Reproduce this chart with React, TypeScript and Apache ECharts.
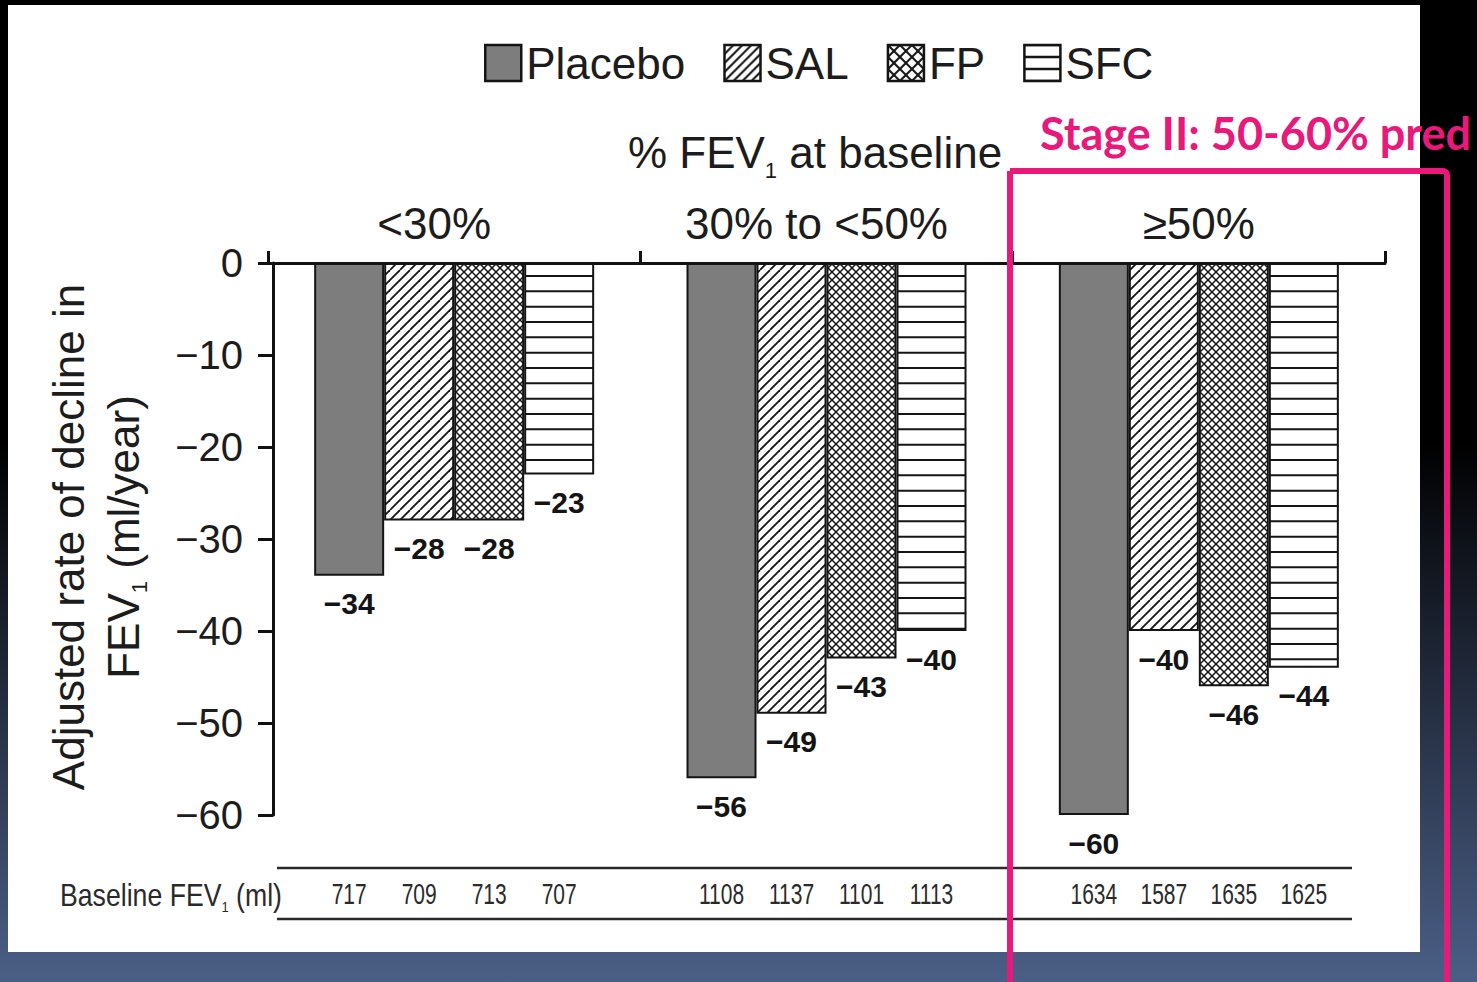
import { useEffect, useRef } from 'react';
import * as echarts from 'echarts';

// ---------- data ----------
const categories = ['<30%', '30% to <50%', '≥50%'];
const seriesNames = ['Placebo', 'SAL', 'FP', 'SFC'];
const placebo = [-34, -56, -60];
const sal = [-28, -49, -40];
const fp = [-28, -43, -46];
const sfc = [-23, -40, -44];
const baselinePlacebo = [717, 1108, 1634];
const baselineSal = [709, 1137, 1587];
const baselineFp = [713, 1101, 1635];
const baselineSfc = [707, 1113, 1625];
const yMin = -60;
const yMax = 0;
const yStep = 10;

const FONT = "'Liberation Sans', Arial, Helvetica, sans-serif";
const INK = '#1c1c1c';
const TABLE_INK = '#2a2a2a';
const PINK = '#e9197c';

const fmt = (v: number) => (v < 0 ? '\u2212' + Math.abs(v) : String(v));

type Kind = 'diag' | 'cross' | 'horiz';
function makePattern(kind: Kind, size: number, period: number, lw: number) {
  const c = document.createElement('canvas');
  c.width = size;
  c.height = size;
  const g = c.getContext('2d')!;
  g.fillStyle = '#ffffff';
  g.fillRect(0, 0, size, size);
  g.strokeStyle = '#151515';
  g.lineWidth = lw;
  if (kind === 'diag' || kind === 'cross') {
    for (let k = -size; k <= 2 * size + 0.01; k += period) {
      g.beginPath();
      g.moveTo(k, 0);
      g.lineTo(k - size, size);
      g.stroke();
      if (kind === 'cross') {
        g.beginPath();
        g.moveTo(k, 0);
        g.lineTo(k + size, size);
        g.stroke();
      }
    }
  } else {
    for (let y = 0; y < size + 0.01; y += period) {
      g.beginPath();
      g.moveTo(0, y);
      g.lineTo(size, y);
      g.stroke();
    }
  }
  return { image: c, repeat: 'repeat' } as any;
}

export default function App() {
  const ref = useRef<HTMLDivElement>(null);

  useEffect(() => {
    if (!ref.current) return;
    const chart = echarts.init(ref.current, undefined, { renderer: 'svg' });

    const values = [placebo, sal, fp, sfc];
    const baselines = [baselinePlacebo, baselineSal, baselineFp, baselineSfc];
    const fills: any[] = [
      '#7d7d7d',
      makePattern('diag', 30, 10, 1.8),
      makePattern('cross', 24, 8, 1.5),
      makePattern('horiz', 46, 46 / 3, 2),
    ];
    const legendFills: any[] = [
      '#7d7d7d',
      makePattern('diag', 36, 9, 2),
      makePattern('cross', 36, 12, 2),
      makePattern('horiz', 36, 12, 2.5),
    ];

    const mainSeries = seriesNames.map((name, i) => ({
      name,
      type: 'bar',
      xAxisIndex: 0,
      yAxisIndex: 0,
      data: values[i],
      barWidth: 70,
      barGap: '0%',
      itemStyle: { color: fills[i], borderColor: '#141414', borderWidth: 2 },
      label: {
        show: true,
        position: 'bottom',
        distance: 13,
        formatter: (p: any) => fmt(p.value),
        fontSize: 30,
        fontWeight: 'bold',
        color: '#141414',
        fontFamily: FONT,
      },
      z: 3,
    }));

    // invisible bars in the table row: their layout gives the column centres
    const tableSeries = seriesNames.map((name) => ({
      name: 'Baseline ' + name,
      type: 'bar',
      xAxisIndex: 1,
      yAxisIndex: 1,
      data: categories.map(() => 1),
      barWidth: 70,
      barGap: '0%',
      silent: true,
      legendHoverLink: false,
      itemStyle: { color: 'rgba(0,0,0,0)' },
    }));

    const catPad = [40, 20, 0];
    const rich: any = {};
    catPad.forEach((p, i) => {
      rich['c' + i] = { fontSize: 44, color: INK, fontFamily: FONT, padding: [0, p, 0, 0] };
    });

    const baseElements: any[] = [
      {
        type: 'rect',
        z: -100,
        silent: true,
        shape: { x: 8, y: 5, width: 1412, height: 947 },
        style: { fill: '#ffffff' },
      },
      {
        type: 'line',
        silent: true,
        shape: { x1: 277, y1: 868, x2: 1352, y2: 868 },
        style: { stroke: TABLE_INK, lineWidth: 2.5 },
      },
      {
        type: 'line',
        silent: true,
        shape: { x1: 277, y1: 919, x2: 1352, y2: 919 },
        style: { stroke: TABLE_INK, lineWidth: 2.5 },
      },
      {
        type: 'text',
        silent: true,
        x: 96,
        y: 537,
        rotation: Math.PI / 2,
        style: {
          text: '{a|Adjusted rate of decline in}\n{a|FEV}{s|1}{a| (ml/year)}',
          align: 'center',
          verticalAlign: 'middle',
          fill: INK,
          rich: {
            a: { fontSize: 44, fontFamily: FONT, fill: INK, lineHeight: 55 },
            s: { fontSize: 22, fontFamily: FONT, fill: INK, lineHeight: 55, padding: [32, 0, 0, 0] },
          },
        },
      },
      {
        type: 'text',
        silent: true,
        x: 815,
        y: 152,
        style: {
          text: '{a|% FEV}{s|1}{a| at baseline}',
          align: 'center',
          verticalAlign: 'middle',
          fill: INK,
          rich: {
            a: { fontSize: 44, fontFamily: FONT, fill: INK, lineHeight: 55 },
            s: { fontSize: 22, fontFamily: FONT, fill: INK, lineHeight: 55, padding: [36, 0, 0, 0] },
          },
        },
      },
      {
        type: 'text',
        silent: true,
        x: 60,
        y: 895,
        scaleX: 0.86,
        style: {
          text: '{a|Baseline FEV}{s|1}{a| (ml)}',
          align: 'left',
          verticalAlign: 'middle',
          fill: TABLE_INK,
          rich: {
            a: { fontSize: 31, fontFamily: FONT, fill: TABLE_INK, lineHeight: 40 },
            s: { fontSize: 15, fontFamily: FONT, fill: TABLE_INK, lineHeight: 40, padding: [24, 0, 0, 0] },
          },
        },
      },
      {
        type: 'text',
        silent: true,
        z: 100,
        x: 1040,
        y: 133,
        style: {
          text: 'Stage II: 50-60% pred',
          align: 'left',
          verticalAlign: 'middle',
          fill: PINK,
          fontSize: 45,
          fontWeight: 'bold',
          fontFamily: "Lato, 'Open Sans', sans-serif",
        },
      },
      {
        type: 'rect',
        silent: true,
        z: 100,
        shape: { x: 1010, y: 171, width: 437, height: 900, r: [0, 4, 0, 0] },
        style: { fill: 'none', stroke: PINK, lineWidth: 6 },
      },
    ];

    const option: any = {
      animation: false,
      backgroundColor: new echarts.graphic.LinearGradient(0, 0, 0, 1, [
        { offset: 0, color: '#000000' },
        { offset: 0.45, color: '#000000' },
        { offset: 1, color: '#4b5f86' },
      ]),
      legend: {
        left: 479,
        top: 36,
        itemWidth: 36,
        itemHeight: 36,
        itemGap: 38,
        icon: 'rect',
        selectedMode: false,
        textStyle: { fontSize: 44, color: INK, fontFamily: FONT },
        data: seriesNames.map((n, i) => ({
          name: n,
          itemStyle: { color: legendFills[i], borderColor: '#141414', borderWidth: 2.5 },
        })),
      },
      grid: [
        { left: 268, top: 263, width: 1117, height: 552 },
        { left: 268, top: 868, width: 1117, height: 51 },
      ],
      xAxis: [
        {
          type: 'category',
          gridIndex: 0,
          position: 'top',
          data: categories,
          axisLine: { show: true, onZero: false, lineStyle: { color: '#111', width: 3 } },
          axisTick: { show: true, interval: 0, length: 12, inside: false, lineStyle: { color: '#111', width: 3 } },
          axisLabel: {
            interval: 0,
            hideOverlap: false,
            fontSize: 44,
            color: INK,
            fontFamily: FONT,
            margin: 18,
            formatter: (v: string, i: number) => `{c${i}|${v}}`,
            rich,
          },
          splitLine: { show: false },
        },
        { type: 'category', gridIndex: 1, data: categories, show: false },
      ],
      yAxis: [
        {
          type: 'value',
          gridIndex: 0,
          offset: -5,
          min: yMin,
          max: yMax,
          interval: yStep,
          axisLine: { show: true, lineStyle: { color: '#111', width: 3 } },
          axisTick: { show: true, length: 15, inside: false, lineStyle: { color: '#111', width: 3 } },
          axisLabel: { fontSize: 40, color: INK, fontFamily: FONT, margin: 30, formatter: (v: number) => fmt(v) },
          splitLine: { show: false },
        },
        { type: 'value', gridIndex: 1, min: 0, max: 1, show: false },
      ],
      series: [...mainSeries, ...tableSeries],
      graphic: { elements: baseElements },
    };

    chart.setOption(option);

    // baseline FEV1 numbers, condensed, centred on the table-row bar layout
    const model = (chart as any).getModel();
    const tableTexts: any[] = [];
    tableSeries.forEach((_, i) => {
      const data = model.getSeriesByIndex(mainSeries.length + i).getData();
      categories.forEach((__, j) => {
        const lay = data.getItemLayout(j);
        if (!lay) return;
        tableTexts.push({
          type: 'text',
          silent: true,
          x: lay.x + lay.width / 2,
          y: lay.y + lay.height / 2,
          scaleX: 0.7,
          style: {
            text: String(baselines[i][j]),
            align: 'center',
            verticalAlign: 'middle',
            fontSize: 30,
            fontFamily: FONT,
            fill: TABLE_INK,
          },
        });
      });
    });
    chart.setOption({ graphic: { elements: [...baseElements, ...tableTexts] } });

    return () => chart.dispose();
  }, []);

  return (
    <div
      ref={ref}
      style={{ position: 'fixed', left: 0, top: 0, width: 1477, height: 982 }}
    />
  );
}
